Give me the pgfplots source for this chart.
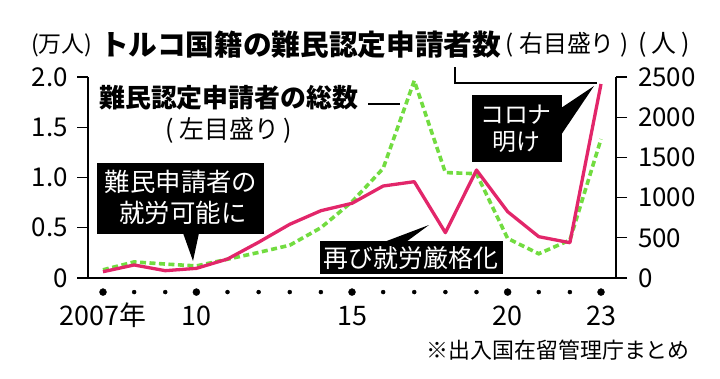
\documentclass[border=0pt]{standalone}
\usepackage{fontspec}
\usepackage{pgfplots}
\pgfplotsset{compat=1.18}
\setmainfont{Noto Sans CJK JP}
\newfontfamily\numfont{Noto Sans CJK JP}
\definecolor{redl}{HTML}{E2266A}
\definecolor{greenl}{HTML}{72DC40}
\pgfplotstableread{
year total
2007 0.0816
2008 0.1599
2009 0.1388
2010 0.1202
2011 0.1867
2012 0.2545
2013 0.3260
2014 0.5000
2015 0.7586
2016 1.0901
2017 1.9629
2018 1.0493
2019 1.0375
2020 0.3936
2021 0.2413
2022 0.3772
2023 1.3823
}\totaltab
\pgfplotstableread{
year turkey
2007 78
2008 162
2009 91
2010 120
2011 236
2012 445
2013 668
2014 837
2015 929
2016 1144
2017 1198
2018 564
2019 1343
2020 825
2021 514
2022 439
2023 2413
}\turktab
\begin{document}
\begin{tikzpicture}[x=1bp,y=1bp]
\path[use as bounding box] (0,0) rectangle (720,378);
\begin{axis}[
  at={(88bp,100bp)}, anchor=south west, scale only axis,
  width=528bp, height=201bp,
  xmin=2006.518, xmax=2023.482, ymin=0, ymax=2,
  axis x line*=bottom, axis y line*=left,
  axis line style={line width=1.4pt,-},
  ytick={0,0.5,1,1.5,2}, yticklabels={0,0.5,1.0,1.5,2.0},
  ytick align=outside, major tick length=11bp,
  ytick style={line width=1.4pt,black},
  yticklabel style={font=\numfont\fontsize{26}{26}\selectfont, anchor=east, inner sep=0pt, xshift=-9bp},
  xtick={2007,2010,2015,2020,2023}, xticklabels={2007年,10,15,20,23},
  xtick style={draw=none},
  xticklabel style={font=\numfont\fontsize{27}{27}\selectfont, anchor=base, inner sep=0pt, yshift=-47bp},
  clip=false,
]
\addplot[only marks, mark=*, mark size=3.5bp, black] coordinates {(2007,-0.14) (2010,-0.14) (2015,-0.14) (2020,-0.14) (2023,-0.14)};
\addplot[only marks, mark=*, mark size=2bp, black] coordinates {(2008,-0.14) (2009,-0.14) (2011,-0.14) (2012,-0.14) (2013,-0.14) (2014,-0.14) (2016,-0.14) (2017,-0.14) (2018,-0.14) (2019,-0.14) (2021,-0.14) (2022,-0.14)};
\addplot[greenl, line width=3.6bp, dash pattern=on 6bp off 3.5bp, mark=none] table[x=year,y=total] {\totaltab};
\end{axis}
\begin{axis}[
  at={(88bp,100bp)}, anchor=south west, scale only axis,
  width=528bp, height=201bp,
  xmin=2006.518, xmax=2023.482, ymin=0, ymax=2500,
  axis x line=none, axis y line*=right,
  axis line style={line width=1.4pt,-},
  ytick={0,500,1000,1500,2000,2500}, yticklabels={0,500,1000,1500,2000,2500},
  ytick align=outside, major tick length=11bp,
  ytick style={line width=1.4pt,black},
  yticklabel style={font=\numfont\fontsize{26}{26}\selectfont, anchor=west, inner sep=0pt, xshift=11bp},
  clip=false,
]
\addplot[redl, line width=3.3bp, mark=none, line join=round] table[x=year,y=turkey] {\turktab};
\end{axis}
% title row
\node[anchor=west, inner sep=0pt, font=\fontsize{23}{23}\selectfont] at (31,333) {(万人)};
\node[anchor=west, inner sep=0pt, font=\bfseries\fontsize{28.8}{28.8}\selectfont] at (100,333) {トルコ国籍の難民認定申請者数};
\node[anchor=west, inner sep=0pt, font=\fontsize{24}{24}\selectfont] at (505,333) {(\hspace{6bp}右目盛り\hspace{6bp})};
\node[anchor=west, inner sep=0pt, font=\fontsize{25}{25}\selectfont] at (638,333) {(\hspace{5bp}人\hspace{5bp})};
% leader from title
\draw[line width=1.1bp] (455,311) -- (455,295) -- (597,295);
% green label
\node[anchor=west, inner sep=0pt, font=\bfseries\fontsize{26}{26}\selectfont] at (99,280) {難民認定申請者の総数};
\node[anchor=west, inner sep=0pt, font=\fontsize{25}{25}\selectfont] at (165,248) {(\hspace{6bp}左目盛り\hspace{4bp})};
\draw[line width=1.2bp] (368,274) -- (400,274);
% box 1
\fill[black] (97,215) rectangle (264,144);
\fill[black] (183,145) -- (199,145) -- (193,117) -- cycle;
\node[white, inner sep=0pt, font=\fontsize{25.5}{25.5}\selectfont] at (181,196) {難民申請者の};
\node[white, inner sep=0pt, font=\fontsize{25.5}{25.5}\selectfont] at (183,165) {就労可能に};
% box 2
\fill[black] (320,137) rectangle (503,104);
\fill[black] (384,136) -- (406,136) -- (429,153) -- cycle;
\node[white, inner sep=0pt, font=\fontsize{25}{25}\selectfont] at (411,120) {再び就労厳格化};
% box 3
\fill[black] (472,283) rectangle (562,216);
\fill[black] (561,270) -- (561,243) -- (594,292) -- cycle;
\node[white, inner sep=0pt, font=\fontsize{24}{24}\selectfont] at (516,263) {コロナ};
\node[white, inner sep=0pt, font=\fontsize{24}{24}\selectfont] at (516,236) {明け};
% footnote
\node[anchor=east, inner sep=0pt, font=\fontsize{22}{22}\selectfont] at (690,28) {※出入国在留管理庁まとめ};
\end{tikzpicture}
\end{document}
